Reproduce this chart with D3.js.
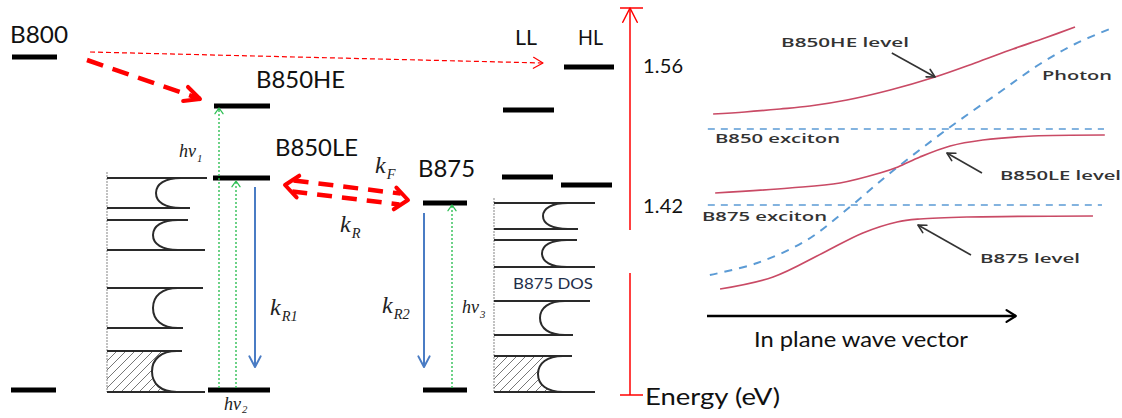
<!DOCTYPE html>
<html>
<head>
<meta charset="utf-8">
<script src="https://cdn.jsdelivr.net/npm/d3@7"></script>
<style>
  html, body { margin: 0; padding: 0; background: #fff; }
  svg { display: block; }
</style>
</head>
<body>
<svg id="chart_svg" width="1122" height="418"></svg>
<script>
// ---- data (energies in meV, wave vector in arbitrary units 0..100) ----
const levelNames = ["B800", "B800_0", "B850HE", "B850LE", "B850_0", "B875", "B875_0", "LL1", "LL2", "HL1", "HL2"];
const levelEnergy = [1569, 1236, 1520, 1448, 1236, 1423, 1236, 1516, 1449, 1559, 1441];

const energyTicks = [1560, 1420];
const energyAxisRange = [1231, 1618];
const energyAxisGap = [1353, 1396];

// DOS bands: [top, bottom] energy of each band
const dosLeftBands = [[1448, 1418], [1406, 1376], [1338, 1298], [1275, 1234]];
const dosRightBands = [[1423, 1397], [1386, 1359], [1325, 1291], [1270, 1234]];

// dispersion curves
const kHE = [1.5, 9.3, 17.9, 25.2, 34.3, 44.9, 55.9, 65.7, 75.0, 82.8, 90.2];
const eHE = [1512, 1514, 1517, 1520, 1526, 1536, 1549, 1563, 1577, 1588, 1599];
const kPhoton = [0.7, 12.3, 24.5, 35.0, 44.9, 59.6, 71.8, 81.6, 90.2, 99.3];
const ePhoton = [1351, 1363, 1386, 1419, 1453, 1499, 1534, 1562, 1582, 1598];
const kLE = [2.0, 20.3, 32.6, 42.4, 46.8, 52.2, 59.6, 67.6, 79.9, 97.5];
const eLE = [1433, 1438, 1443, 1453, 1459, 1469, 1480, 1486, 1490, 1491];
const k875 = [3.2, 16.2, 28.4, 38.2, 46.6, 52.2, 63.7, 94.6];
const e875 = [1337, 1349, 1373, 1393, 1404, 1407, 1409, 1410];

const excitonNames = ["B850 exciton", "B875 exciton"];
const excitonEnergy = [1497, 1421];
const excitonK = [[0.2, 97.3], [0.2, 96.8]];

const curveLabels = ["B850HE level", "Photon", "B850LE level", "B875 level"];
// pointer arrows: [kTail, eTail, kTip, eTip]
const pointers = [[45.3, 1573, 55.9, 1549], [67.4, 1453, 58.8, 1473], [64.7, 1371, 51.7, 1401]];

// ---- layout (positions, not data) ----
const levelSpan = {
  B800: [12, 57], B800_0: [11, 56], B850HE: [214, 270], B850LE: [213, 270], B850_0: [208, 270],
  B875: [423, 467], B875_0: [423, 467], LL1: [503, 554], LL2: [502, 553], HL1: [564, 614], HL2: [561, 612]
};
const RED = "#ff0000", GREEN = "#2fbf55", BLUE = "#4a7cc4", CURVE = "#c94a65", DASH = "#5b9bd5";

const svg = d3.select("#chart_svg");
const y = d3.scaleLinear().domain([1420, 1560]).range([206, 66]);
const xR = d3.scaleLinear().domain([0, 100]).range([707, 1115]);
const E = Object.fromEntries(levelNames.map((n, i) => [n, levelEnergy[i]]));

// hatch pattern for filled DOS band
const defs = svg.append("defs");
const pat = defs.append("pattern").attr("id", "hatch").attr("patternUnits", "userSpaceOnUse")
  .attr("width", 9).attr("height", 9);
pat.append("path").attr("d", "M-2,2L2,-2M0,9L9,0M7,11L11,7")
  .attr("stroke", "#777").attr("stroke-width", 1);

function vHead(g, tip, from, len, ang, color, w) {
  const dx = tip[0] - from[0], dy = tip[1] - from[1];
  const L = Math.hypot(dx, dy), ux = dx / L, uy = dy / L;
  const a = ang * Math.PI / 180, c = Math.cos(a), s = Math.sin(a);
  const p1 = [tip[0] - len * (ux * c - uy * s), tip[1] - len * (uy * c + ux * s)];
  const p2 = [tip[0] - len * (ux * c + uy * s), tip[1] - len * (uy * c - ux * s)];
  g.append("path").attr("d", "M" + p1 + "L" + tip + "L" + p2)
    .attr("fill", "none").attr("stroke", color).attr("stroke-width", w)
    .attr("stroke-linecap", "round").attr("stroke-linejoin", "round");
}

function arrow(g, from, to, color, w, dash, headLen, headAng, headW) {
  g.append("line").attr("x1", from[0]).attr("y1", from[1]).attr("x2", to[0]).attr("y2", to[1])
    .attr("stroke", color).attr("stroke-width", w).attr("stroke-dasharray", dash || null);
  vHead(g, to, from, headLen, headAng, color, headW || w);
}

// ---- DOS sketches ----
function drawDOS(x0, bands, ends, xmins, vTop) {
  const g = svg.append("g");
  g.append("line").attr("x1", x0).attr("x2", x0).attr("y1", y(vTop)).attr("y2", y(bands[bands.length - 1][1]))
    .attr("stroke", "#999").attr("stroke-width", 1.2).attr("stroke-dasharray", "2,1");
  bands.forEach((b, i) => {
    const yT = y(b[0]), yB = y(b[1]), ym = (yT + yB) / 2, xm = xmins[i], xe = xm + 25;
    const seg = ` C${xm + 9},${yT} ${xm},${ym - (ym - yT) * 0.6} ${xm},${ym}` +
      ` C${xm},${ym + (yB - ym) * 0.6} ${xm + 9},${yB} ${xe},${yB}`;
    if (i === bands.length - 1) {
      g.append("path").attr("d", `M${x0},${yT} L${xe},${yT}` + seg + ` L${x0},${yB} Z`)
        .attr("fill", "url(#hatch)").attr("stroke", "none");
    }
    g.append("line").attr("x1", x0).attr("x2", ends[i][0]).attr("y1", yT).attr("y2", yT)
      .attr("stroke", "#2a2a2a").attr("stroke-width", 2.2);
    g.append("line").attr("x1", x0).attr("x2", ends[i][1]).attr("y1", yB).attr("y2", yB)
      .attr("stroke", "#2a2a2a").attr("stroke-width", 2.2);
    g.append("path").attr("d", `M${xe},${yT}` + seg).attr("fill", "none")
      .attr("stroke", "#2a2a2a").attr("stroke-width", 2);
  });
}
drawDOS(107, dosLeftBands, [[207, 190], [188, 205], [203, 183], [182, 205]], [156, 153, 153, 152], 1454);
drawDOS(494, dosRightBands, [[595, 578], [577, 595], [590, 573], [572, 595]], [543, 542, 540, 538], 1428);

// ---- level bars ----
svg.append("g").selectAll("rect").data(levelNames).join("rect")
  .attr("x", d => levelSpan[d][0]).attr("width", d => levelSpan[d][1] - levelSpan[d][0])
  .attr("y", d => y(E[d]) - 2.5).attr("height", 5).attr("fill", "#000");

// ---- transitions ----
const gArr = svg.append("g");
// B800 -> HL (thin dashed)
arrow(gArr, [90, y(E.B800) - 5], [543, y(E.HL1) - 4], RED, 1.2, "5,3", 11, 30, 1.2);
// B800 -> B850HE (thick dashed)
arrow(gArr, [87, y(E.B800) + 3], [200, y(E.B850HE) - 7], RED, 4.5, "17,10", 17, 26, 4);
// B850LE <-> B875 double-shaft dashed
{
  const L = [285, y(E.B850LE) + 7], R = [408, y(E.B875) - 3];
  const dx = R[0] - L[0], dy = R[1] - L[1], len = Math.hypot(dx, dy), ux = dx / len, uy = dy / len;
  [-5.5, 5.5].forEach(off => {
    const nx = -uy * off, ny = ux * off;
    gArr.append("line")
      .attr("x1", L[0] + ux * 8 + nx).attr("y1", L[1] + uy * 8 + ny)
      .attr("x2", R[0] - ux * 8 + nx).attr("y2", R[1] - uy * 8 + ny)
      .attr("stroke", RED).attr("stroke-width", 4.5).attr("stroke-dasharray", "15,10");
  });
  vHead(gArr, L, R, 17, 40, RED, 4);
  vHead(gArr, R, L, 17, 40, RED, 4);
}
// absorption (green dotted)
arrow(gArr, [219, y(E.B850_0) - 2], [219, y(E.B850HE) + 2], GREEN, 1.4, "2,2", 7, 35, 1.3);
arrow(gArr, [236, y(E.B850_0) - 2], [236, y(E.B850LE) + 3], GREEN, 1.4, "2,2", 7, 35, 1.3);
arrow(gArr, [452, y(E.B875_0) - 2], [452, y(E.B875) + 2], GREEN, 1.4, "2,2", 7, 35, 1.3);
// emission (blue)
arrow(gArr, [255, y(E.B850LE) + 9], [255, y(E.B850_0) - 23], BLUE, 2, null, 12, 28, 2);
arrow(gArr, [424, y(E.B875) + 10], [424, y(E.B875_0) - 23], BLUE, 2, null, 12, 28, 2);

// ---- energy axis ----
const gAx = svg.append("g");
const xa = 630;
gAx.append("line").attr("x1", xa).attr("x2", xa).attr("y1", y(energyAxisRange[1])).attr("y2", y(energyAxisGap[1]))
  .attr("stroke", RED).attr("stroke-width", 1.5);
gAx.append("line").attr("x1", xa).attr("x2", xa).attr("y1", y(energyAxisGap[0])).attr("y2", y(energyAxisRange[0]))
  .attr("stroke", RED).attr("stroke-width", 1.5);
energyAxisRange.forEach(v => gAx.append("line").attr("x1", xa - 10).attr("x2", xa + 13)
  .attr("y1", y(v)).attr("y2", y(v)).attr("stroke", RED).attr("stroke-width", 1.5));
vHead(gAx, [xa, y(energyAxisRange[1])], [xa, y(energyAxisRange[0])], 16, 27, RED, 1.5);

const tickAxis = d3.axisRight(y).tickValues(energyTicks).tickFormat(d => (d / 1000).toFixed(2))
  .tickSize(0).tickPadding(13);
const gTicks = svg.append("g").attr("transform", `translate(${xa},0)`).call(tickAxis);
gTicks.select(".domain").remove();
gTicks.selectAll("text").attr("font-family", "Lato, 'Open Sans', sans-serif").attr("font-size", 20)
  .attr("fill", "#111").attr("textLength", 40);

// ---- text labels (left) ----
const sans = "Lato, 'Open Sans', sans-serif";
const levelLabels = ["B800", "B850HE", "B850LE", "B875", "LL", "HL", "Energy (eV)", "B875 DOS"];
const levelLabelPos = [[10, 43, 24, 58], [256, 88, 24, 89], [275, 156, 24, 83], [418, 177, 24, 57],
  [515, 45, 21, 22], [578, 45, 21, 25], [645, 405, 24, 135], [513, 289, 16, 80]];
svg.append("g").selectAll("text").data(levelLabels).join("text")
  .attr("x", (d, i) => levelLabelPos[i][0]).attr("y", (d, i) => levelLabelPos[i][1])
  .attr("font-size", (d, i) => levelLabelPos[i][2]).attr("textLength", (d, i) => levelLabelPos[i][3])
  .attr("lengthAdjust", "spacingAndGlyphs")
  .attr("font-family", sans).attr("fill", (d, i) => i === 7 ? "#1f2f4a" : "#111").text(d => d);

// italic rate labels
const rateMain = ["k", "k", "k", "k", "hν", "hν", "hν"];
const rateSub = ["F", "R", "R1", "R2", "1", "2", "3"];
const ratePos = [[375, 173, 24], [340, 232, 24], [270, 315, 24], [382, 313, 24],
  [179, 157, 18], [224, 410, 18], [462, 313, 18]];
const gRate = svg.append("g").attr("font-family", "'Liberation Serif', 'DejaVu Serif', serif")
  .attr("font-style", "italic").attr("fill", "#222");
rateMain.forEach((m, i) => {
  const p = ratePos[i];
  const t = gRate.append("text").attr("x", p[0]).attr("y", p[1]).attr("font-size", p[2]);
  t.append("tspan").text(m);
  t.append("tspan").attr("font-size", p[2] * 0.6).attr("dy", p[2] * (i === 5 ? 0.15 : 0.25)).attr("dx", 1)
    .text(rateSub[i]);
});

// ---- right panel ----
const gR = svg.append("g");
const line = d3.line().x(d => xR(d[0])).y(d => y(d[1])).curve(d3.curveCatmullRom.alpha(0.5));

excitonNames.forEach((n, i) => {
  gR.append("line").attr("x1", xR(excitonK[i][0])).attr("x2", xR(excitonK[i][1]))
    .attr("y1", y(excitonEnergy[i])).attr("y2", y(excitonEnergy[i]))
    .attr("stroke", DASH).attr("stroke-width", 1.6).attr("stroke-dasharray", "7,6");
});
gR.append("path").datum(kPhoton.map((k, i) => [k, ePhoton[i]])).attr("d", line)
  .attr("fill", "none").attr("stroke", DASH).attr("stroke-width", 2).attr("stroke-dasharray", "8,7");
[[kHE, eHE], [kLE, eLE], [k875, e875]].forEach(([ks, es]) => {
  gR.append("path").datum(ks.map((k, i) => [k, es[i]])).attr("d", line)
    .attr("fill", "none").attr("stroke", CURVE).attr("stroke-width", 1.7);
});
pointers.forEach(p => arrow(gR, [xR(p[0]), y(p[1])], [xR(p[2]), y(p[3])], "#333", 1.6, null, 9, 28, 1.6));

const rightTexts = [curveLabels[0], curveLabels[1], excitonNames[0], curveLabels[2], excitonNames[1], curveLabels[3]];
const rightPos = [[781, 47, 128], [1042, 80, 70], [715, 143, 125], [1000, 180, 121], [702, 221, 125], [980, 263, 100]];
gR.selectAll("text.rl").data(rightTexts).join("text").attr("class", "rl")
  .attr("x", (d, i) => rightPos[i][0]).attr("y", (d, i) => rightPos[i][1])
  .attr("textLength", (d, i) => rightPos[i][2]).attr("lengthAdjust", "spacingAndGlyphs")
  .attr("font-family", "'Open Sans', sans-serif").attr("font-weight", 600).attr("font-size", 13)
  .attr("fill", "#333").text(d => d);

// wave vector axis
arrow(gR, [xR(0), 316], [xR(75.7), 316], "#000", 2.5, null, 11, 32, 2.2);
gR.append("text").attr("x", 754).attr("y", 347).attr("font-family", sans).attr("font-size", 22)
  .attr("textLength", 214).attr("lengthAdjust", "spacingAndGlyphs").attr("fill", "#111")
  .text("In plane wave vector");
</script>
</body>
</html>
